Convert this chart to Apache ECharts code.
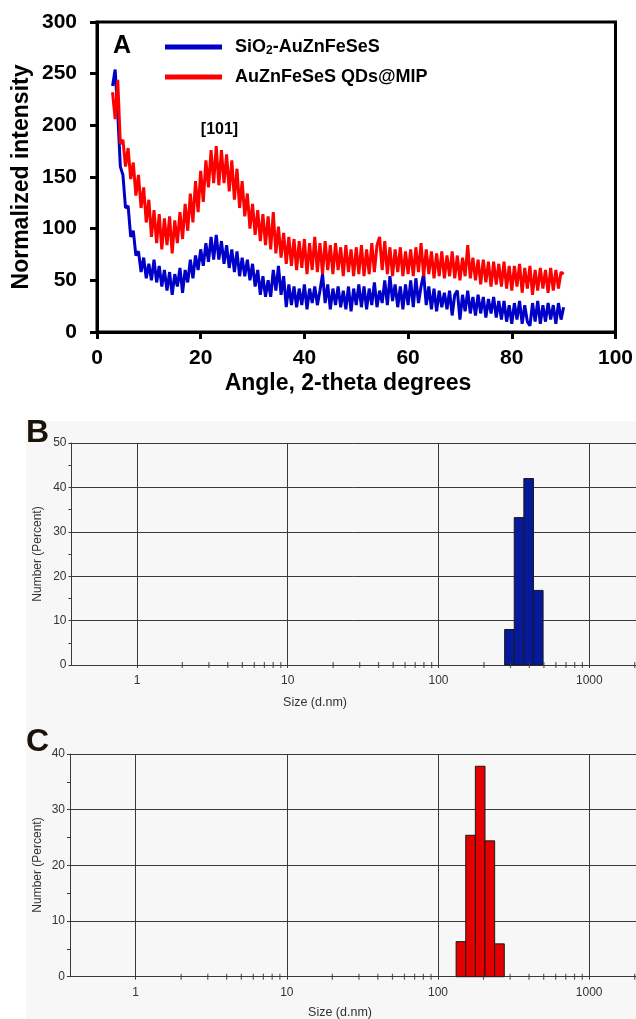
<!DOCTYPE html>
<html>
<head>
<meta charset="utf-8">
<script src="https://cdn.jsdelivr.net/npm/echarts@6/dist/echarts.min.js"></script>
<style>
html,body{margin:0;padding:0;background:#fff;}
#chart{width:636px;height:1019px;}
</style>
</head>
<body>
<div id="chart"></div>
<script>
// ---------- Panel A: XRD ----------
const angleStart = 3;      // 2-theta of first sample (deg)
const angleStep = 0.5;     // sampling step (deg)
const seriesNamesA = ['SiO2-AuZnFeSeS', 'AuZnFeSeS QDs@MIP'];
const blueIntensity = [
  238,254,212,160,152,120,122,92,98,74,
  78,58,72,52,66,50,70,48,64,44,
  60,40,58,36,56,44,62,38,60,48,
  70,52,74,60,80,64,86,68,92,70,
  94,70,88,66,84,62,80,58,78,54,
  72,54,70,50,66,44,60,36,54,34,
  50,34,60,40,64,36,54,24,46,26,
  44,24,42,26,46,22,42,28,44,26,
  40,56,28,46,22,42,26,44,24,40,
  22,44,20,42,26,46,24,44,22,42,
  26,48,24,40,28,50,26,54,30,46,
  24,44,22,46,26,50,24,52,28,44,
  56,26,44,22,42,20,40,24,38,22,
  40,16,36,40,12,36,20,40,18,34,
  16,36,18,34,14,32,18,34,14,30,
  12,30,10,26,8,28,12,30,8,26,
  10,6,28,10,30,8,26,10,28,12,
  26,8,28,12,24
];
const redIntensity = [
  232,206,244,182,186,160,178,148,164,132,
  152,120,140,106,128,92,118,86,114,80,
  110,84,112,76,108,86,116,90,124,98,
  134,106,146,116,156,126,166,140,176,144,
  180,142,176,144,172,136,166,128,158,120,
  146,112,134,100,124,94,118,88,114,84,
  112,80,116,76,102,72,96,66,92,64,
  90,60,88,62,90,56,86,60,92,58,
  86,56,88,60,84,56,86,60,82,54,
  84,58,80,54,82,56,84,54,80,56,
  86,58,84,92,60,88,56,82,54,80,
  58,82,54,78,56,80,54,82,58,86,
  54,80,56,78,52,76,54,78,52,74,
  54,78,52,74,50,72,54,84,52,72,
  50,70,46,70,48,68,44,68,46,66,
  44,68,42,64,40,64,44,66,38,62,
  42,64,36,60,40,62,42,60,38,62,
  40,60,42,58,56
];
const xTicksA = [0, 100, 20];   // min, max, interval
const yTicksA = [0, 300, 50];

// ---------- Panels B & C: DLS size distributions ----------
const sizeB = [295.3, 342.0, 396.1, 458.7];      // d.nm (bin centres)
const percentB = [8.0, 33.2, 42.0, 16.8];
const sizeC = [141.8, 164.2, 190.1, 220.2, 255.0];
const percentC = [6.3, 25.4, 37.8, 24.4, 5.9];
const binRatio = 1.1583;                           // log bin width ratio
const sizeAxisRange = [0.368, 2040];
const minorTickSizes = [2,3,4,5,6,7,8,9,20,30,40,50,60,70,80,90,200,300,400,500,600,700,800,900,2000];
const yMaxB = 50, yMaxC = 40, yStepBC = 10;

// ---------- build ----------
const FONT = "'Liberation Sans', Arial, Helvetica, sans-serif";
const NARROW = "'Liberation Sans Narrow', 'Liberation Sans', Arial, sans-serif";
const blueData = blueIntensity.map((v, i) => [angleStart + i * angleStep, v]);
const redData = redIntensity.map((v, i) => [angleStart + i * angleStep, v]);

function histItem(fill) {
  return function (params, api) {
    const c = api.value(0), v = api.value(1);
    const h = Math.sqrt(binRatio);
    const p0 = api.coord([c / h, v]);
    const p1 = api.coord([c * h, 0]);
    return {
      type: 'rect',
      shape: { x: p0[0], y: p0[1], width: p1[0] - p0[0], height: p1[1] - p0[1] },
      style: { fill: fill, stroke: '#1a1a1a', lineWidth: 1 }
    };
  };
}

const gridLine = { color: '#3a3a3a', width: 1 };
function logXAxis(gridIndex) {
  return {
    gridIndex, type: 'log', logBase: 10, min: sizeAxisRange[0], max: sizeAxisRange[1],
    axisLine: { show: true, lineStyle: gridLine },
    axisTick: { show: true, length: 3, lineStyle: gridLine },
    axisLabel: { show: true, color: '#333', fontSize: 12, fontFamily: FONT, margin: 10,
      showMinLabel: false, showMaxLabel: false, formatter: v => String(Math.round(v)) },
    splitLine: { show: true, lineStyle: gridLine },
    minorTick: { show: false }
  };
}
function pctYAxis(gridIndex, max) {
  return {
    gridIndex, type: 'value', min: 0, max: max, interval: yStepBC,
    axisLine: { show: true, lineStyle: gridLine },
    axisTick: { show: true, length: 3, lineStyle: gridLine },
    minorTick: { show: true, splitNumber: 2, length: 3, lineStyle: gridLine },
    axisLabel: { color: '#333', fontSize: 12, fontFamily: FONT, margin: 5 },
    splitLine: { show: true, lineStyle: gridLine }
  };
}

const chart = echarts.init(document.getElementById('chart'), null, { renderer: 'canvas' });
chart.setOption({
  backgroundColor: '#ffffff',
  animation: false,
  grid: [
    { left: 97, top: 22, width: 520, height: 310, show: true, borderColor: '#000', borderWidth: 3, backgroundColor: 'transparent' },
    { left: 71.5, top: 443, width: 564.5, height: 222 },
    { left: 70, top: 754, width: 566, height: 222.7 }
  ],
  legend: {
    data: seriesNamesA, left: 165, top: 37, orient: 'vertical', padding: 0,
    icon: 'rect', itemWidth: 57, itemHeight: 5, itemGap: 10,
    textStyle: { fontSize: 18, fontWeight: 'bold', color: '#000', fontFamily: FONT, lineHeight: 20, padding: [0, 0, 0, 8],
      rich: { sub: { fontSize: 12, fontWeight: 'bold', fontFamily: FONT, color: '#000', verticalAlign: 'bottom', padding: [6, 0, 0, 0] } } },
    formatter: name => name === seriesNamesA[0] ? 'SiO{sub|2}-AuZnFeSeS' : name
  },
  xAxis: [
    { gridIndex: 0, type: 'value', min: xTicksA[0], max: xTicksA[1], interval: xTicksA[2],
      axisLine: { show: true, lineStyle: { color: '#000', width: 3 } },
      axisTick: { show: true, length: 7, lineStyle: { color: '#000', width: 3 } },
      axisLabel: { color: '#000', fontSize: 21, fontWeight: 'bold', fontFamily: FONT, margin: 16 },
      splitLine: { show: false } },
    logXAxis(1), logXAxis(2)
  ],
  yAxis: [
    { gridIndex: 0, type: 'value', min: yTicksA[0], max: yTicksA[1], interval: yTicksA[2],
      axisLine: { show: true, lineStyle: { color: '#000', width: 3 } },
      axisTick: { show: true, length: 7, lineStyle: { color: '#000', width: 3 } },
      axisLabel: { color: '#000', fontSize: 21, fontWeight: 'bold', fontFamily: FONT, margin: 20 },
      splitLine: { show: false } },
    pctYAxis(1, yMaxB), pctYAxis(2, yMaxC)
  ],
  series: [
    { name: seriesNamesA[0], type: 'line', xAxisIndex: 0, yAxisIndex: 0, data: blueData,
      showSymbol: false, symbol: 'none', lineStyle: { color: '#0000c8', width: 3 }, itemStyle: { color: '#0000c8' } },
    { name: seriesNamesA[1], type: 'line', xAxisIndex: 0, yAxisIndex: 0, data: redData,
      showSymbol: false, symbol: 'none', lineStyle: { color: '#ff0000', width: 3 }, itemStyle: { color: '#ff0000' } },
    { type: 'custom', xAxisIndex: 1, yAxisIndex: 1, renderItem: histItem('#06199a'),
      encode: { x: 0, y: 1 }, data: sizeB.map((s, i) => [s, percentB[i]]), z: 3 },
    { type: 'scatter', xAxisIndex: 1, yAxisIndex: 1, data: minorTickSizes.map(s => [s, 0]),
      symbol: 'rect', symbolSize: [1.2, 6], itemStyle: { color: '#3a3a3a' }, silent: true, clip: false, z: 4 },
    { type: 'custom', xAxisIndex: 2, yAxisIndex: 2, renderItem: histItem('#e30000'),
      encode: { x: 0, y: 1 }, data: sizeC.map((s, i) => [s, percentC[i]]), z: 3 },
    { type: 'scatter', xAxisIndex: 2, yAxisIndex: 2, data: minorTickSizes.map(s => [s, 0]),
      symbol: 'rect', symbolSize: [1.2, 6], itemStyle: { color: '#3a3a3a' }, silent: true, clip: false, z: 4 }
  ],
  graphic: [
    { type: 'rect', z: -100, shape: { x: 26, y: 421, width: 610, height: 598 }, style: { fill: '#f7f7f7' } },
    { type: 'text', x: 113, y: 46, style: { text: 'A', font: 'bold 25px ' + FONT, fill: '#000', textVerticalAlign: 'middle' } },
    { type: 'text', x: 219.5, y: 129.5, style: { text: '[101]', font: 'bold 16px ' + FONT, fill: '#000', textAlign: 'center', textVerticalAlign: 'middle' } },
    { type: 'text', x: 22, y: 177, rotation: Math.PI / 2, style: { text: 'Normalized intensity', font: 'bold 23px ' + FONT, fill: '#000', textAlign: 'center', textVerticalAlign: 'middle' } },
    { type: 'text', x: 348, y: 384, style: { text: 'Angle, 2-theta degrees', font: 'bold 23px ' + FONT, fill: '#000', textAlign: 'center', textVerticalAlign: 'middle' } },
    { type: 'text', x: 26, y: 433, style: { text: 'B', font: 'bold 32px ' + NARROW, fill: '#1a1208', textVerticalAlign: 'middle' } },
    { type: 'text', x: 37.5, y: 554, rotation: Math.PI / 2, style: { text: 'Number (Percent)', font: '12px ' + FONT, fill: '#333', textAlign: 'center', textVerticalAlign: 'middle' } },
    { type: 'text', x: 315, y: 703, style: { text: 'Size (d.nm)', font: '12.5px ' + FONT, fill: '#333', textAlign: 'center', textVerticalAlign: 'middle' } },
    { type: 'text', x: 26, y: 742, style: { text: 'C', font: 'bold 32px ' + NARROW, fill: '#1a1208', textVerticalAlign: 'middle' } },
    { type: 'text', x: 37.5, y: 865, rotation: Math.PI / 2, style: { text: 'Number (Percent)', font: '12px ' + FONT, fill: '#333', textAlign: 'center', textVerticalAlign: 'middle' } },
    { type: 'text', x: 340, y: 1013, style: { text: 'Size (d.nm)', font: '12.5px ' + FONT, fill: '#333', textAlign: 'center', textVerticalAlign: 'middle' } }
  ]
});
</script>
</body>
</html>
